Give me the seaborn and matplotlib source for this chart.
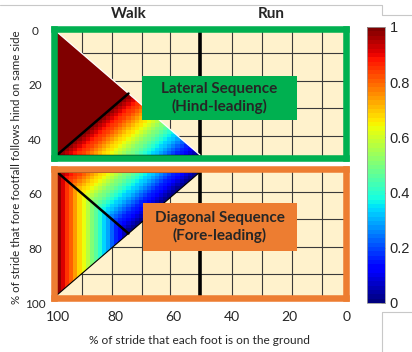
#!/usr/bin/env python3
"""
Gait diagram: lateral / diagonal sequence triangles coloured by a 0-1 score
(jet colormap), walk / run split at 50 % duty factor.
"""

import numpy as np
import pandas as pd
import matplotlib
matplotlib.use("Agg")
import matplotlib.pyplot as plt
import seaborn as sns
from matplotlib.patches import Rectangle, Polygon
from matplotlib.lines import Line2D
from matplotlib.transforms import blended_transform_factory

# ---- data: duty factor (x, %) vs limb phase (y, %) ----
X_TICKS = [100, 80, 60, 40, 20, 0]
Y_TICKS = [0, 20, 40, 60, 80, 100]
CBAR_TICKS = [0, 0.2, 0.4, 0.6, 0.8, 1]
WALK_RUN = 50
LAT_TRI = [(100, 0), (100, 50), (50, 50)]
DIAG_TRI = [(100, 50), (50, 50), (100, 100)]
LAT_SPLIT = [(100, 50), (75, 25)]
DIAG_SPLIT = [(100, 50), (75, 75)]
GRID_X = [91.3, 80.8, 70.3, 60.5, 38.8, 28.3, 17.8, 7.3]
GRID_Y_LAT = [8.5, 19.9, 31.0, 42.3]
GRID_Y_DIAG = [58.1, 69.1, 80.5, 91.5]
GAITS = ["Walk", "Run"]
GAIT_X = [75, 25]
SEQ_LABELS = ["Lateral Sequence\n(Hind-leading)", "Diagonal Sequence\n(Fore-leading)"]

GREEN = "#00B050"
ORANGE = "#ED7D31"
TAN = "#FFF2CC"

# heatmap cells
NCOL = 70
STEP = 100 / NCOL
xc = 100 - (np.arange(NCOL) + 0.5) * STEP
yc_lat = (np.arange(NCOL // 2) + 0.5) * STEP
yc_diag = 50 + (np.arange(NCOL // 2) + 0.5) * STEP

# lateral triangle: score falls off across the split line, saturates above it
X, Y = np.meshgrid(xc, yc_lat)
lat = np.clip((X - Y) / 50, 0, 1)
df_lat = pd.DataFrame(lat, index=np.round(yc_lat, 2), columns=np.round(xc, 2))

# diagonal triangle: left of split depends on duty factor only
X, Y = np.meshgrid(xc, yc_diag)
diag = np.where(X + Y >= 150, (X - 75) / 25, (X - Y) / 50)
diag = np.clip(diag, 0, 1)
df_diag = pd.DataFrame(diag, index=np.round(yc_diag, 2), columns=np.round(xc, 2))


def hx(x):
    return (100 - x) / STEP


def hy(y, y0):
    return (y - y0) / STEP


sns.set_style("white")
plt.rcParams["font.family"] = ["Lato", "DejaVu Sans"]

W, H = 412, 352
fig = plt.figure(figsize=(W / 100, H / 100), dpi=100)


def box(l, t, r, b):
    return [l / W, 1 - b / H, (r - l) / W, (b - t) / H]


# host axes carries the continuous 0-100 tick labels
host = fig.add_axes(box(58, 30, 347, 303))
host.set_xlim(100, 0)
host.set_ylim(100, 0)
host.set_xticks(X_TICKS)
host.set_xticklabels([str(v) for v in X_TICKS], fontsize=10)
host.set_yticks(Y_TICKS)
host.set_yticklabels([str(v) for v in Y_TICKS], fontsize=8.5)
for lab in host.get_yticklabels():
    lab.set_horizontalalignment("center")
host.tick_params(axis="y", length=0, pad=16.5)
host.tick_params(axis="x", length=0, pad=6)
host.patch.set_visible(False)
for sp in host.spines.values():
    sp.set_visible(False)

ax_lat = fig.add_axes(box(53.75, 28.75, 346.25, 158.25))
ax_diag = fig.add_axes(box(53.75, 168.75, 346.25, 298.25))
cax = fig.add_axes(box(367, 27, 385, 303))

cmap = plt.get_cmap("jet", 64)
DX = 3.25 / 2.86
DY = 3.25 / 2.46

panels = [
    (ax_lat, df_lat, 0, GREEN, GRID_Y_LAT, LAT_TRI, LAT_SPLIT, SEQ_LABELS[0], (70.3, 16.1, 17.9, 35.8)),
    (ax_diag, df_diag, 50, ORANGE, GRID_Y_DIAG, DIAG_TRI, DIAG_SPLIT, SEQ_LABELS[1], (70.0, 16.1, 62.6, 82.1)),
]

for k, (ax, df, y0, colour, gy, tri, split, label, bx) in enumerate(panels):
    ax.set_facecolor(TAN)
    sns.heatmap(df, ax=ax, cmap=cmap, vmin=0, vmax=1,
                cbar=(k == 0), cbar_ax=cax if k == 0 else None,
                xticklabels=False, yticklabels=False)
    # keep only the triangle
    tri_px = [(hx(px), hy(py, y0)) for px, py in tri]
    ax.collections[0].set_clip_path(Polygon(tri_px, closed=True, transform=ax.transData))

    ax.set_xlim(hx(100 + DX), hx(-DX))
    ax.set_ylim(hy(y0 + 50 + DY, y0), hy(y0 - DY, y0))
    ax.set_xticks([])
    ax.set_yticks([])
    ax.set_xlabel("")
    ax.set_ylabel("")

    for gx in GRID_X:
        ax.axvline(hx(gx), color="#3a3a3a", lw=0.8, zorder=0.5)
    for g in gy:
        ax.axhline(hy(g, y0), color="#3a3a3a", lw=0.8, zorder=0.5)
    ax.axvline(hx(WALK_RUN), color="black", lw=2.6, zorder=2)

    # triangle edges
    (pa, pb, pc) = tri_px
    if k == 0:
        ax.plot([pb[0], pc[0]], [pb[1], pc[1]], color="black", lw=1.0, zorder=2)
        ax.plot([pa[0], pc[0]], [pa[1], pc[1]], color="white", lw=0.9, zorder=2)
    else:
        ax.plot([pa[0], pb[0]], [pa[1], pb[1]], color="black", lw=1.3, zorder=2)
        ax.plot([pb[0], pc[0]], [pb[1], pc[1]], color="black", lw=0.8, zorder=2)
    ax.plot([hx(p[0]) for p in split], [hy(p[1], y0) for p in split],
            color="black", lw=1.8, zorder=2)

    # label box
    x0, x1, yb0, yb1 = bx
    ax.add_patch(Rectangle((hx(x0), hy(yb0, y0)), hx(x1) - hx(x0), hy(yb1, y0) - hy(yb0, y0),
                           facecolor=colour, edgecolor="none", zorder=3))
    ax.text((hx(x0) + hx(x1)) / 2, (hy(yb0, y0) + hy(yb1, y0)) / 2, label,
            ha="center", va="center", fontsize=11, fontweight="bold",
            linespacing=1.3, zorder=4)

    for sp in ax.spines.values():
        sp.set_visible(True)
        sp.set_color(colour)
        sp.set_linewidth(4.7)

# walk / run headers
tr = blended_transform_factory(ax_lat.transData, ax_lat.transAxes)
for g, gx in zip(GAITS, GAIT_X):
    ax_lat.text(hx(gx), 1.115, g, transform=tr, ha="center", va="center",
                fontsize=11, fontweight="bold")

# colorbar
cbar = ax_lat.collections[0].colorbar
cbar.set_ticks(CBAR_TICKS)
cbar.set_ticklabels([f"{t:g}" for t in CBAR_TICKS])
cbar.outline.set_edgecolor("#9a9a9a")
cbar.outline.set_linewidth(0.6)
cax.tick_params(direction="in", length=3, width=0.6, color="#555555", pad=3.5)
for lab in cax.get_yticklabels():
    lab.set_family(["Liberation Sans", "DejaVu Sans"])
    lab.set_fontsize(10.5)

# axis labels
fig.text(17 / W, 1 - 167 / H, "% of stride that fore footfall follows hind on same side",
         rotation=90, ha="center", va="center", fontsize=8.3)
fig.text(199 / W, 1 - 340 / H, "% of stride that each foot is on the ground",
         ha="center", va="center", fontsize=8.6)


# page border lines around the figure
def fig_line(xs, ys):
    fig.add_artist(Line2D([x / W for x in xs], [1 - y / H for y in ys],
                          color="#c8c8c8", lw=0.8, transform=fig.transFigure))


fig_line([0, 382, 382, 412], [5, 5, 15, 15])
fig_line([382, 382, 412], [352, 312, 312])

fig.savefig("out.png", dpi=100)
